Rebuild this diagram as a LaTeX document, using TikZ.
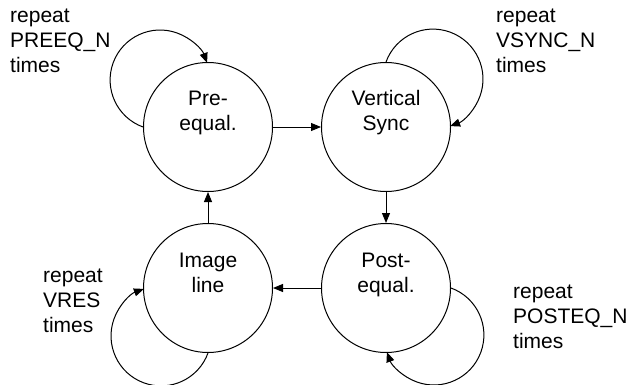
\documentclass[tikz,border=0pt]{standalone}
\usepackage{fontspec}
\setmainfont{Liberation Sans}
\usetikzlibrary{arrows.meta}
\begin{document}
\begin{tikzpicture}[x=1pt,y=1pt,
  state/.style={circle,draw,line width=1pt,minimum size=129pt,inner sep=0pt},
  ctext/.style={anchor=base,text width=110pt,align=center,inner sep=0pt,font=\fontsize{21}{25}\selectfont},
  lbl/.style={anchor=base west,text width=120pt,align=left,inner sep=0pt,font=\fontsize{21}{25}\selectfont},
  arr/.style={line width=1pt,-{Triangle[length=10pt,width=8pt]}}]
\useasboundingbox (0,0) rectangle (631,-385);
\node[state] (pre) at (208,-127) {};
\node[state] (vs) at (386,-127) {};
\node[state] (img) at (208,-288) {};
\node[state] (post) at (386,-288) {};
\node[ctext] (pret) at ([yshift=21pt]pre.center) {Pre-\\equal.};
\node[ctext] (vst) at ([yshift=21pt]vs.center) {Vertical\\Sync};
\node[ctext] (imgt) at ([yshift=21pt]img.center) {Image\\line};
\node[ctext] (postt) at ([yshift=21pt]post.center) {Post-\\equal.};
\node[lbl] (l1) at (10,-23) {repeat\\PREEQ\_N\\times};
\node[lbl] (l2) at (496,-23) {repeat\\VSYNC\_N\\times};
\node[lbl] (l3) at (43,-282) {repeat\\VRES\\times};
\node[lbl] (l4) at (513,-298) {repeat\\POSTEQ\_N\\times};
\draw[arr] (pre) -- (vs);
\draw[arr] (vs) -- (post);
\draw[arr] (post) -- (img);
\draw[arr] (img) -- (pre);
\draw[arr] (pre.west) arc[start angle=-110,end angle=-340,radius=50pt];
\draw[arr] (vs.north) arc[start angle=160,end angle=-70,radius=50pt];
\draw[arr] (post.east) arc[start angle=70,end angle=-160,radius=50pt];
\draw[arr] (img.south) arc[start angle=-20,end angle=-250,radius=50pt];
\end{tikzpicture}
\end{document}
